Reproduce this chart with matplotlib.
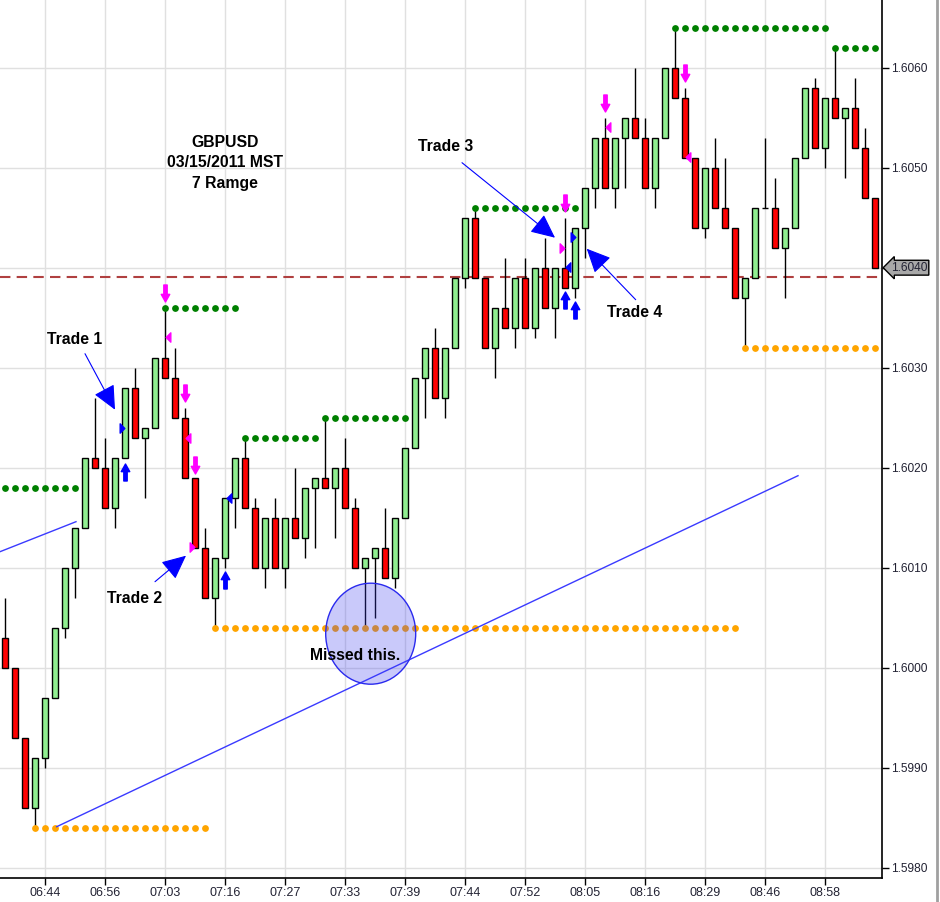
import matplotlib
matplotlib.use('Agg')
import matplotlib.pyplot as plt
from matplotlib.patches import Ellipse
from matplotlib.path import Path
from matplotlib.lines import Line2D

plt.rcParams['font.family'] = ['Liberation Sans', 'DejaVu Sans']

# range bars, 7 pips, GBPUSD
opens = [1.6003, 1.6000, 1.5993, 1.5986, 1.5991, 1.5997, 1.6004, 1.6010, 1.6014, 1.6021,
         1.6020, 1.6016, 1.6021, 1.6028, 1.6023, 1.6024, 1.6031, 1.6029, 1.6025, 1.6019,
         1.6012, 1.6007, 1.6011, 1.6017, 1.6021, 1.6016, 1.6010, 1.6015, 1.6010, 1.6015,
         1.6013, 1.6018, 1.6019, 1.6018, 1.6020, 1.6016, 1.6010, 1.6011, 1.6012, 1.6009,
         1.6015, 1.6022, 1.6029, 1.6032, 1.6027, 1.6032, 1.6039, 1.6045, 1.6039, 1.6032,
         1.6036, 1.6034, 1.6039, 1.6034, 1.6040, 1.6036, 1.6040, 1.6038, 1.6044, 1.6048,
         1.6053, 1.6048, 1.6053, 1.6055, 1.6053, 1.6048, 1.6053, 1.6060, 1.6057, 1.6051,
         1.6044, 1.6050, 1.6046, 1.6044, 1.6037, 1.6039, 1.6046, 1.6046, 1.6042, 1.6044,
         1.6051, 1.6058, 1.6052, 1.6057, 1.6055, 1.6056, 1.6052, 1.6047]
closes = [1.6000, 1.5993, 1.5986, 1.5991, 1.5997, 1.6004, 1.6010, 1.6014, 1.6021, 1.6020,
          1.6016, 1.6021, 1.6028, 1.6023, 1.6024, 1.6031, 1.6029, 1.6025, 1.6019, 1.6012,
          1.6007, 1.6011, 1.6017, 1.6021, 1.6016, 1.6010, 1.6015, 1.6010, 1.6015, 1.6013,
          1.6018, 1.6019, 1.6018, 1.6020, 1.6016, 1.6010, 1.6011, 1.6012, 1.6009, 1.6015,
          1.6022, 1.6029, 1.6032, 1.6027, 1.6032, 1.6039, 1.6045, 1.6039, 1.6032, 1.6036,
          1.6034, 1.6039, 1.6034, 1.6040, 1.6036, 1.6040, 1.6038, 1.6044, 1.6048, 1.6053,
          1.6048, 1.6053, 1.6055, 1.6053, 1.6048, 1.6053, 1.6060, 1.6057, 1.6051, 1.6044,
          1.6050, 1.6046, 1.6044, 1.6037, 1.6039, 1.6046, 1.6046, 1.6042, 1.6044, 1.6051,
          1.6058, 1.6052, 1.6057, 1.6055, 1.6056, 1.6052, 1.6047, 1.6040]
highs = [1.6007, 1.6000, 1.5993, 1.5991, 1.5997, 1.6004, 1.6010, 1.6014, 1.6021, 1.6027,
         1.6023, 1.6021, 1.6028, 1.6030, 1.6024, 1.6031, 1.6036, 1.6032, 1.6026, 1.6019,
         1.6014, 1.6011, 1.6017, 1.6021, 1.6023, 1.6017, 1.6015, 1.6017, 1.6015, 1.6020,
         1.6018, 1.6019, 1.6025, 1.6020, 1.6023, 1.6017, 1.6011, 1.6012, 1.6016, 1.6015,
         1.6022, 1.6029, 1.6032, 1.6034, 1.6032, 1.6039, 1.6045, 1.6046, 1.6039, 1.6036,
         1.6041, 1.6039, 1.6041, 1.6040, 1.6043, 1.6040, 1.6045, 1.6044, 1.6048, 1.6053,
         1.6055, 1.6053, 1.6055, 1.6060, 1.6055, 1.6053, 1.6060, 1.6064, 1.6058, 1.6051,
         1.6050, 1.6053, 1.6051, 1.6044, 1.6039, 1.6046, 1.6053, 1.6049, 1.6044, 1.6051,
         1.6058, 1.6059, 1.6057, 1.6062, 1.6056, 1.6059, 1.6054, 1.6047]
lows = [1.6000, 1.5993, 1.5986, 1.5984, 1.5990, 1.5997, 1.6003, 1.6007, 1.6014, 1.6020,
        1.6016, 1.6014, 1.6021, 1.6023, 1.6017, 1.6024, 1.6029, 1.6025, 1.6019, 1.6012,
        1.6007, 1.6004, 1.6010, 1.6014, 1.6016, 1.6010, 1.6008, 1.6010, 1.6008, 1.6013,
        1.6011, 1.6012, 1.6018, 1.6013, 1.6016, 1.6010, 1.6004, 1.6005, 1.6009, 1.6008,
        1.6015, 1.6022, 1.6025, 1.6027, 1.6025, 1.6032, 1.6038, 1.6039, 1.6032, 1.6029,
        1.6034, 1.6032, 1.6034, 1.6033, 1.6036, 1.6033, 1.6038, 1.6037, 1.6041, 1.6046,
        1.6048, 1.6046, 1.6048, 1.6053, 1.6048, 1.6046, 1.6053, 1.6057, 1.6051, 1.6044,
        1.6043, 1.6046, 1.6044, 1.6037, 1.6032, 1.6039, 1.6046, 1.6042, 1.6037, 1.6044,
        1.6051, 1.6052, 1.6050, 1.6055, 1.6049, 1.6052, 1.6047, 1.6040]

time_ticks = [4, 10, 16, 22, 28, 34, 40, 46, 52, 58, 64, 70, 76, 82]
time_labels = ['06:44', '06:56', '07:03', '07:16', '07:27', '07:33', '07:39',
               '07:44', '07:52', '08:05', '08:16', '08:29', '08:46', '08:58']
price_ticks = [1.5980, 1.5990, 1.6000, 1.6010, 1.6020, 1.6030, 1.6040, 1.6050, 1.6060]

# dotted resistance (green) / support (orange) levels
res_levels = [1.6018, 1.6036, 1.6023, 1.6025, 1.6046, 1.6064, 1.6062]
res_start = [0, 16, 24, 32, 47, 67, 83]
res_end = [7, 23, 31, 40, 57, 82, 87]
sup_levels = [1.5984, 1.6004, 1.6032]
sup_start = [3, 21, 74]
sup_end = [20, 73, 87]

last_price = 1.6040
ref_line = 1.60391

# signal markers (bar position, price)
buy_arrow_x = [12, 22, 56, 57]
buy_arrow_y = [1.60196, 1.60088, 1.60368, 1.60358]
sell_arrow_x = [16, 18, 19, 56, 60, 68]
sell_arrow_y = [1.60375, 1.60275, 1.60203, 1.60465, 1.60565, 1.60595]
blue_right_x = [11.7, 56.8]
blue_right_y = [1.60240, 1.60431]
blue_left_x = [22.4, 56.3]
blue_left_y = [1.60170, 1.60401]
pink_right_x = [18.7, 55.7]
pink_right_y = [1.60121, 1.60420]
pink_left_x = [16.3, 18.3, 60.3, 68.3]
pink_left_y = [1.60331, 1.60230, 1.60541, 1.60511]

up_arrow = Path([(-0.2, -1), (0.2, -1), (0.2, 0.1), (0.5, 0.1), (0, 1),
                 (-0.5, 0.1), (-0.2, 0.1), (-0.2, -1)], closed=True)
down_arrow = Path([(x, -y) for x, y in up_arrow.vertices], closed=True)
tri_right = Path([(-0.5, -1), (0.5, 0), (-0.5, 1), (-0.5, -1)], closed=True)
tri_left = Path([(0.5, -1), (-0.5, 0), (0.5, 1), (0.5, -1)], closed=True)

fig = plt.figure(figsize=(9.4, 9.02), dpi=100)
ax = fig.add_axes([0, 24 / 902, 882 / 940, 878 / 902])

n = len(opens)
xs = list(range(n))

ax.vlines(xs, lows, highs, color='black', lw=1, zorder=3)
colors = ['#90ee90' if c >= o else '#ff0000' for o, c in zip(opens, closes)]
heights = [c - o for o, c in zip(opens, closes)]
ax.bar(xs, heights, bottom=opens, width=0.62, color=colors, edgecolor='black',
       linewidth=1, zorder=4)

for lvl, a, b in zip(res_levels, res_start, res_end):
    ax.scatter(range(a, b + 1), [lvl] * (b - a + 1), s=24, color='#008000',
               linewidths=0, zorder=5)
for lvl, a, b in zip(sup_levels, sup_start, sup_end):
    ax.scatter(range(a, b + 1), [lvl] * (b - a + 1), s=24, color='#ffa500',
               linewidths=0, zorder=5)

ax.axhline(ref_line, color='#b04040', lw=1.5, ls=(0, (5, 3)), zorder=2)

# trend lines
ax.plot([-0.5, 7.1], [1.60116, 1.60146], color='#3a3aff', lw=1, zorder=6)
ax.plot([5.17, 79.3], [1.59841, 1.60192], color='#3a3aff', lw=1, zorder=6)

ax.scatter(buy_arrow_x, buy_arrow_y, marker=up_arrow, s=150, color='blue', zorder=7)
ax.scatter(sell_arrow_x, sell_arrow_y, marker=down_arrow, s=150, color='#ff00ff', zorder=7)
ax.scatter(blue_right_x, blue_right_y, marker=tri_right, s=45, color='blue', zorder=7)
ax.scatter(blue_left_x, blue_left_y, marker=tri_left, s=45, color='blue', zorder=7)
ax.scatter(pink_right_x, pink_right_y, marker=tri_right, s=45, color='#ff00ff', zorder=7)
ax.scatter(pink_left_x, pink_left_y, marker=tri_left, s=45, color='#ff00ff', zorder=7)

ax.add_patch(Ellipse((36.57, 1.60034), width=9.0, height=0.00101,
                     facecolor=(0.25, 0.25, 0.94, 0.28), edgecolor='#2a2aee',
                     lw=1, zorder=8))
ax.text(35.0, 1.60012, 'Missed this.', fontsize=11.3, fontweight='bold',
        ha='center', va='center', zorder=9)

ax.text(22.0, 1.60505, 'GBPUSD\n03/15/2011 MST\n7 Ramge', fontsize=11.3,
        fontweight='bold', ha='center', va='center', linespacing=1.45, zorder=9)

arrow_style = dict(arrowstyle='-|>,head_length=0.75,head_width=0.35', color='blue',
                   lw=0.8, mutation_scale=20, shrinkA=0, shrinkB=0)
trades = [('Trade 1', (7.0, 1.60328), (8.0, 1.60314), (11.0, 1.60258)),
          ('Trade 2', (13.0, 1.60069), (15.0, 1.60086), (18.1, 1.60112)),
          ('Trade 3', (44.1, 1.60521), (45.7, 1.60505), (55.0, 1.60430)),
          ('Trade 4', (63.0, 1.60355), (63.07, 1.60368), (58.17, 1.60419))]
for label, txt, tail, tip in trades:
    ax.text(txt[0], txt[1], label, fontsize=11.3, fontweight='bold',
            ha='center', va='center', zorder=9)
    ax.annotate('', xy=tip, xytext=tail, arrowprops=arrow_style, zorder=9)

ax.set_xlim(-0.5, 87.7)
ax.set_ylim(1.597897, 1.606677)

ax.set_xticks(time_ticks)
ax.set_xticklabels(time_labels, fontsize=9)
ax.yaxis.tick_right()
ax.set_yticks(price_ticks)
ax.set_yticklabels(['' if abs(p - last_price) < 1e-9 else f'{p:.4f}' for p in price_ticks],
                   fontsize=8.6)
ax.tick_params(axis='both', direction='out', length=5, width=1, colors='black',
               labelcolor='#222233', pad=1.5)
ax.grid(True, color='#e0e0e0', lw=1, zorder=0)
ax.set_axisbelow(True)
for side in ['left', 'top']:
    ax.spines[side].set_visible(False)
for side in ['right', 'bottom']:
    ax.spines[side].set_linewidth(1.2)

ax.annotate(f'{last_price:.4f}', xy=(1.0, last_price), xycoords=('axes fraction', 'data'),
            xytext=(9, 0), textcoords='offset pixels', fontsize=8.6, va='center', ha='left',
            color='#222233',
            bbox=dict(boxstyle='larrow,pad=0.12', fc='#a8a8a8', ec='black', lw=1),
            annotation_clip=False, zorder=10)

fig.add_artist(Line2D([937 / 940, 937 / 940], [0, 1], color='#a0a0a0', lw=2,
                      transform=fig.transFigure))

fig.savefig('out.png', dpi=100)
